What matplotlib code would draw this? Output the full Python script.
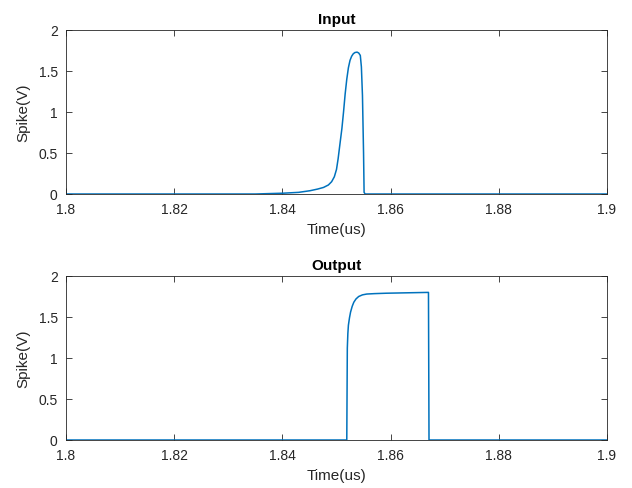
import matplotlib
matplotlib.use("Agg")
import matplotlib.pyplot as plt

plt.rcParams['font.family'] = ['Liberation Sans', 'DejaVu Sans']

# Input spike (time in us, voltage in V)
t_in = [1.80, 1.835, 1.8402, 1.8430, 1.8451, 1.8465, 1.8476, 1.8485, 1.8491,
        1.8496, 1.8500, 1.8503, 1.8506, 1.8510, 1.8513, 1.8516, 1.8519, 1.8522,
        1.8525, 1.8528, 1.8531, 1.8534, 1.8538, 1.8541, 1.8544, 1.8546, 1.8548,
        1.8550, 1.8551, 1.8553, 1.90]
v_in = [0.0, 0.0, 0.01, 0.02, 0.04, 0.06, 0.08, 0.11, 0.15,
        0.21, 0.30, 0.43, 0.59, 0.80, 1.00, 1.22, 1.40, 1.54,
        1.63, 1.68, 1.71, 1.725, 1.73, 1.72, 1.69, 1.55, 1.20,
        0.50, 0.02, 0.0, 0.0]

# Output spike
t_out = [1.80, 1.8519, 1.8520, 1.8521, 1.8522, 1.8524, 1.8526, 1.8529, 1.8532,
         1.8536, 1.8541, 1.8548, 1.8556, 1.8570, 1.8592, 1.8630,
         1.8670, 1.8671, 1.90]
v_out = [0.0, 0.0, 1.12, 1.30, 1.40, 1.49, 1.56, 1.63, 1.68,
         1.72, 1.75, 1.77, 1.78, 1.785, 1.79, 1.795,
         1.80, 0.0, 0.0]

titles = ["Input", "Output"]
xlabel = "Time(us)"
ylabel = "Spike(V)"
xticks = [1.8, 1.82, 1.84, 1.86, 1.88, 1.9]
xticklabels = ["1.8", "1.82", "1.84", "1.86", "1.88", "1.9"]
yticks = [0, 0.5, 1, 1.5, 2]
yticklabels = ["0", "0.5", "1", "1.5", "2"]

fig = plt.figure(figsize=(6.32, 4.89), dpi=100)
W, H = 632, 489
axes_px = [(66, 31, 607, 195), (66, 277, 607, 441)]
data = [(t_in, v_in), (t_out, v_out)]
gray = '#262626'
for (l, t, r, b), (tx, vy), ttl in zip(axes_px, data, titles):
    ax = fig.add_axes([l / W, 1 - b / H, (r - l) / W, (b - t) / H])
    ax.plot(tx, vy, color='#0072BD', lw=1.1)
    ax.set_xlim(1.8, 1.9)
    ax.set_ylim(0, 2)
    ax.set_xticks(xticks)
    ax.set_xticklabels(xticklabels)
    ax.set_yticks(yticks)
    ax.set_yticklabels(yticklabels)
    ax.tick_params(direction='in', length=4, width=0.6, colors=gray,
                   labelsize=10, top=True, right=True, labeltop=False, labelright=False)
    ax.tick_params(axis='x', pad=6)
    ax.tick_params(axis='y', pad=6)
    for s in ax.spines.values():
        s.set_color(gray)
        s.set_linewidth(0.6)
    ax.set_xlabel(xlabel, fontsize=11, color=gray, labelpad=4)
    ax.set_ylabel(ylabel, fontsize=11, color=gray, labelpad=6)
    ax.set_title(ttl, fontsize=11, fontweight='bold', color='black', pad=5)

fig.savefig("out.png", dpi=100)
